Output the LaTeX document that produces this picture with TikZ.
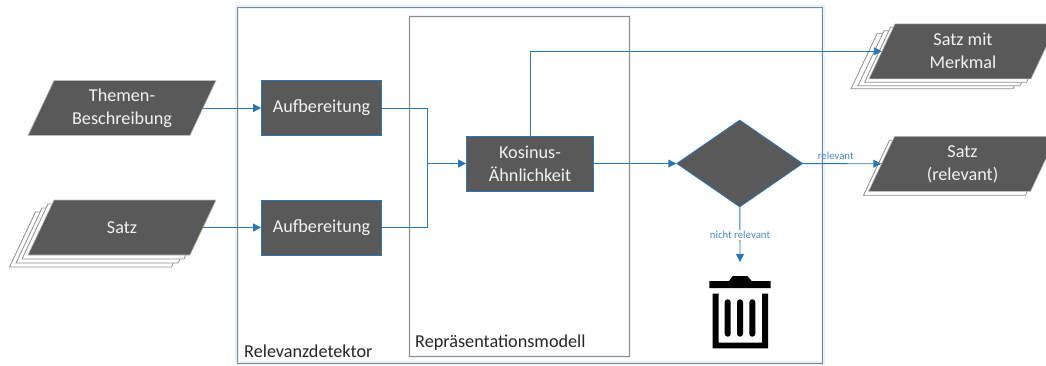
\documentclass[tikz,border=0pt]{standalone}
\usepackage{fontspec}
\setmainfont{Carlito}
\usetikzlibrary{arrows.meta, positioning, shapes.geometric, calc}

\definecolor{flowblue}{HTML}{2E75B6}
\definecolor{flowdark}{HTML}{595959}
\definecolor{flowtext}{HTML}{F2F2F2}
\definecolor{frameblue}{HTML}{76889A}
\definecolor{framegray}{HTML}{8C8C8C}
\definecolor{sheetgray}{HTML}{8F8F8F}

\tikzset{
    dataface/.style={fill=flowdark, draw=sheetgray!60, line width=0.6pt},
    sheetface/.style={fill=white, draw=sheetgray, line width=0.8pt},
    datalabel/.style={rectangle, minimum width=162pt, minimum height=55pt, inner sep=0pt,
        text=flowtext, align=center, font=\fontsize{18.2}{23}\selectfont},
    procbox/.style={rectangle, minimum width=120pt, minimum height=55pt, inner sep=0pt,
        fill=flowdark, draw=flowblue, line width=0.8pt, text=flowtext, align=center,
        font=\fontsize{18.2}{23}\selectfont},
    framelabel/.style={anchor=west, inner sep=0pt, text=black!85,
        font=\fontsize{18.2}{20}\selectfont},
    flowline/.style={draw=flowblue, line width=0.9pt},
    flowarrow/.style={flowline, -{Triangle[length=8pt,width=8pt]}},
    edgelabel/.style={text=flowblue!85, inner sep=1pt, font=\fontsize{10.8}{12}\selectfont}
}

% slanted input/output form: style, centre
\newcommand{\dataform}[2]{
    \draw[#1, shift={(#2)}] (-68,-27.5) -- (94,-27.5) -- (68,27.5) -- (-94,27.5) -- cycle;
}

\begin{document}
\begin{tikzpicture}[x=1pt,y=-1pt]
    \useasboundingbox (0,0) rectangle (1046,365);

    % Relevanzdetektor frame
    \draw[frameblue, line width=0.9pt, preaction={draw=flowblue!10, line width=4pt}] (237,7) rectangle (822.5,363);
    \node[framelabel] (detektor) at (244,351.5) {Relevanzdetektor};

    % Modell frame
    \draw[framegray, line width=0.9pt, preaction={draw=flowblue!8, line width=3pt}] (409,16) rectangle (629.5,356);
    \node[framelabel] (modell) at (415,343) {Repräsentationsmodell};

    % Inputs
    \dataform{dataface}{122,108}
    \node[datalabel] (thema) at (122,108) {Themen-\\Beschreibung};

    \dataform{sheetface}{103.5,239.5}
    \dataform{sheetface}{110,235.5}
    \dataform{sheetface}{116,231.5}
    \dataform{dataface}{122,227.5}
    \node[datalabel] (satz) at (122,227.5) {Satz};

    % Processing
    \node[procbox] (aufa) at (321.5,108) {Aufbereitung};
    \node[procbox] (aufb) at (321.5,227.5) {Aufbereitung};
    \node[procbox, minimum width=127pt] (kosinus) at (530,163.5) {Kosinus-\\Ähnlichkeit};
    \node[diamond, aspect=1.45, minimum width=126pt, minimum height=87pt, inner sep=0pt,
        fill=flowdark, draw=flowblue, line width=0.8pt] (relevanz) at (739.7,163.5) {};
    \coordinate (merge) at (427.5,163.5);

    % Outputs
    \dataform{sheetface}{945,61.3}
    \dataform{sheetface}{952,58.3}
    \dataform{sheetface}{958.5,54.8}
    \dataform{dataface}{963,51.3}
    \node[datalabel] (merkmal) at (963,51.3) {Satz mit\\Merkmal};

    \dataform{sheetface}{957.5,167.7}
    \dataform{dataface}{962.5,163.9}
    \node[datalabel] (relsatz) at (962.5,163.9) {Satz\\(relevant)};

    % Trash can
    \coordinate (trash) at (740,262);
    \fill (709.3,281) -- (729,281) -- (732.7,276) -- (747.3,276) -- (751.7,281) -- (770.7,281) -- (770.7,288) -- (709.3,288) -- cycle;
    \fill (712.7,293.7) -- (718.7,293.7) -- (718.7,342.7) -- (762,342.7) -- (762,293.7) -- (768,293.7) -- (768,348.3) -- (712.7,348.3) -- cycle;
    \fill[rounded corners=2.9pt] (724.7,299.3) rectangle (730.7,336.7);
    \fill[rounded corners=2.9pt] (737,299.3) rectangle (743,336.7);
    \fill[rounded corners=2.9pt] (749.3,299.3) rectangle (755.3,336.7);

    % Connectors
    \draw[flowarrow] (thema) -- (aufa);
    \draw[flowarrow] (satz) -- (aufb);
    \draw[flowline] (aufa) -| (merge);
    \draw[flowline] (aufb) -| (merge);
    \draw[flowarrow] (merge) -- (kosinus);
    \draw[flowarrow] (kosinus.north) |- (merkmal.west);
    \draw[flowarrow] (kosinus) -- (relevanz);
    \draw[flowarrow] (relevanz) -- (relsatz);
    \node[edgelabel] (rellabel) at (835.7,156) {relevant};
    \draw[flowarrow] (relevanz) -- (trash);
    \node[edgelabel, fill=white] (nichtlabel) at (740,235) {nicht relevant};
\end{tikzpicture}
\end{document}
